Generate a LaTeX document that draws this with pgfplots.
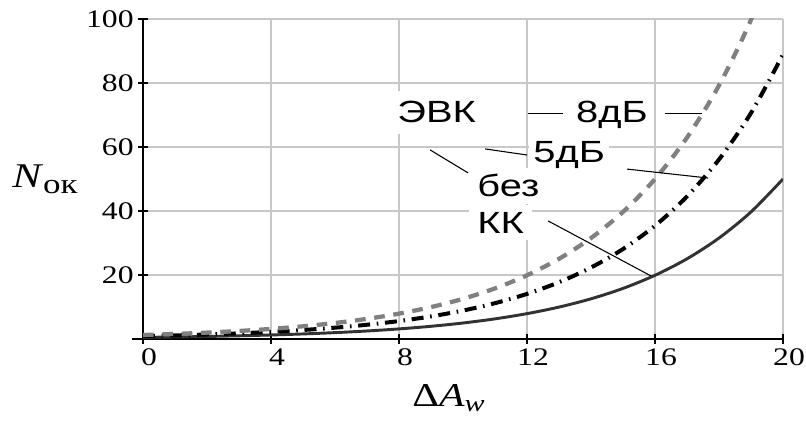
\documentclass[border=0pt]{standalone}
\usepackage{fontspec}
\setmainfont{Liberation Serif}
\newfontfamily\annf[FakeStretch=1.3]{Liberation Sans}
\newfontfamily\tickf[FakeStretch=1.25]{Liberation Serif}
\usepackage{pgfplots}
\usepackage{pgfplotstable}
\pgfplotsset{compat=1.18}
\definecolor{gridc}{RGB}{200,200,200}
\definecolor{dashgrey}{RGB}{128,128,128}
\definecolor{solidc}{RGB}{50,50,50}
\pgfplotstableread{
x   base    d5      d8
0   0.500   0.889   1.256
1   0.629   1.119   1.581
2   0.792   1.409   1.991
3   0.998   1.774   2.506
4   1.256   2.234   3.155
5   1.581   2.812   3.972
6   1.991   3.540   5.000
7   2.506   4.457   6.295
8   3.155   5.610   7.924
9   3.972   7.063   9.976
10  5.000   8.891   12.559
11  6.295   11.194  15.811
12  7.924   14.093  19.905
13  9.976   17.741  25.059
14  12.559  22.334  31.548
15  15.811  28.117  39.716
16  19.905  35.397  50.000
17  25.059  44.563  62.946
18  31.548  56.101  79.245
19  39.716  70.627  99.763
20  50.000  88.914  125.594
}\datatab
\begin{document}
\begin{tikzpicture}
\begin{axis}[name=ax, at={(0,0)}, anchor=south west,
  width=480pt, height=240pt, scale only axis,
  xmin=0, xmax=20, ymin=0, ymax=100,
  xtick={0,4,...,20}, ytick={0,20,...,100},
  yticklabels={,20,40,60,80,100},
  axis lines=left,
  axis line style={-, line width=1.5pt, black},
  x axis line style={shorten <=-8pt},
  grid=major, grid style={gridc, line width=1.3pt},
  tick align=center, major tick length=7pt,
  tick style={black, line width=1.1pt},
  /pgf/number format/assume math mode=true,
  ticklabel style={font=\tickf\fontsize{19}{19}\selectfont},
  xticklabel style={xshift=4.5pt},
  clip mode=individual,
]
\addplot[solidc, line width=2.2pt, smooth] table[x=x, y=base] {\datatab};
\addplot[black, line width=3pt, smooth, dash pattern=on 9pt off 5pt on 1.2pt off 5pt] table[x=x, y=d5] {\datatab};
\addplot[dashgrey, line width=3.2pt, smooth, dash pattern=on 8pt off 6.5pt] table[x=x, y=d8] {\datatab};

\node[anchor=base west, fill=white, inner xsep=3pt, xshift=-3pt, inner ysep=8pt, font=\annf\fontsize{23}{23}\selectfont] at (axis cs:7.94,67.5) {ЭВК};
\node[anchor=base west, fill=white, inner xsep=3pt, xshift=-3pt, inner ysep=8pt, font=\annf\fontsize{23}{23}\selectfont] at (axis cs:13.53,67.5) {8дБ};
\node[anchor=base west, fill=white, inner xsep=3pt, xshift=-3pt, inner ysep=4pt, font=\annf\fontsize{23}{23}\selectfont] at (axis cs:12.19,55.3) {5дБ};
\node[anchor=base west, fill=white, inner xsep=6pt, xshift=-6pt, inner ysep=5pt, font=\annf\fontsize{23}{23}\selectfont] at (axis cs:10.44,44.4) {без};
\node[anchor=base west, fill=white, inner xsep=6pt, xshift=-6pt, inner ysep=5pt, font=\annf\fontsize{23}{23}\selectfont] at (axis cs:10.44,33.1) {КК};

\draw[black, line width=0.8pt] (axis cs:8.97,59.1) -- (axis cs:10.16,51.9);
\draw[black, line width=0.8pt] (axis cs:12.03,70.6) -- (axis cs:13.125,70.6);
\draw[black, line width=0.8pt] (axis cs:16.31,70.6) -- (axis cs:17.47,70.6);
\draw[black, line width=0.8pt] (axis cs:10.69,59.4) -- (axis cs:12.0,57.5);
\draw[black, line width=0.8pt] (axis cs:15.125,53.1) -- (axis cs:17.66,50.3);
\draw[black, line width=0.8pt] (axis cs:12.66,36.9) -- (axis cs:15.875,19.7);
\end{axis}
\node[anchor=base west, inner sep=0pt, font=\tickf\fontsize{26}{26}\selectfont] at ([shift={(-98.25pt,113.25pt)}]ax.south west) {\textit{N}\raisebox{-4pt}{\fontsize{21}{21}\selectfont ок}};
\node[anchor=base west, inner sep=0pt, font=\tickf\fontsize{25}{25}\selectfont] at ([shift={(201.75pt,-50.5pt)}]ax.south west) {Δ\textit{A}\raisebox{-4pt}{\fontsize{18}{18}\selectfont\textit{w}}};
\pgfresetboundingbox
\path ([shift={(-107.25pt,-61.5pt)}]ax.south west) rectangle ([shift={(17.25pt,14.25pt)}]ax.north east);
\end{tikzpicture}
\end{document}
